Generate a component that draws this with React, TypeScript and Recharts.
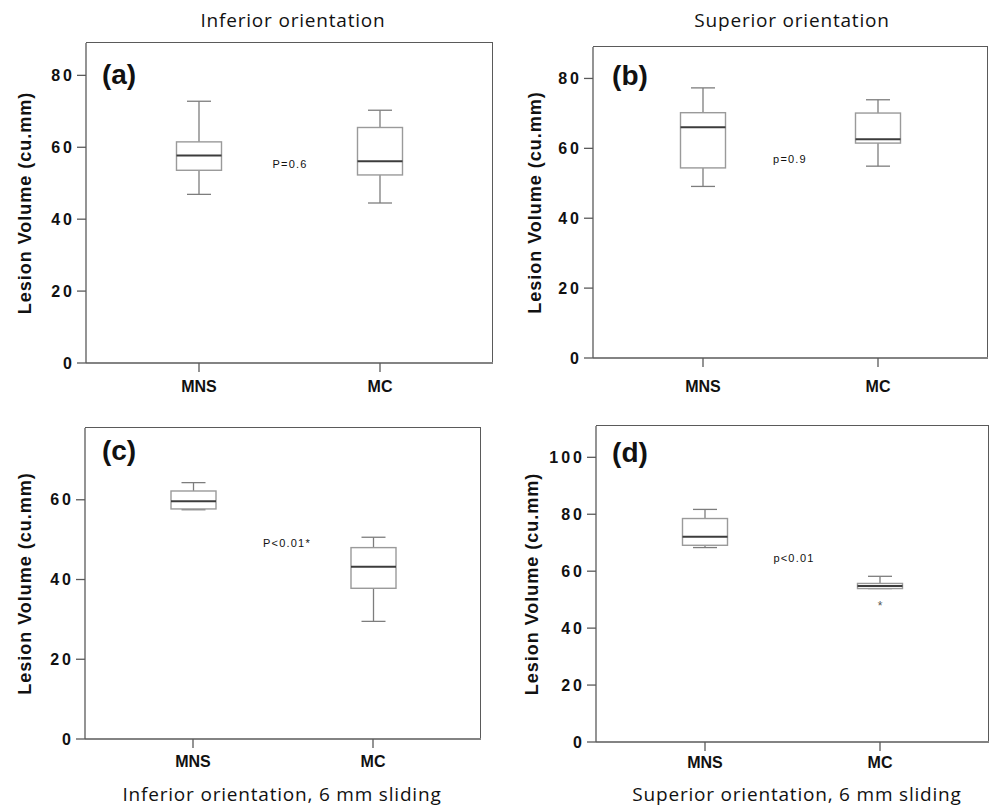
import { BarChart, Bar, XAxis, YAxis } from 'recharts';

const groups = ['MNS', 'MC'];

// five-number summaries: [min, q1, median, q3, max]
const infMNS = [46.9, 53.6, 57.7, 61.5, 72.8];
const infMC = [44.5, 52.3, 56.1, 65.5, 70.3];
const supMNS = [49.1, 54.4, 66.0, 70.2, 77.3];
const supMC = [54.9, 61.5, 62.6, 70.1, 73.9];
const infSlideMNS = [57.5, 57.7, 59.6, 62.2, 64.3];
const infSlideMC = [29.5, 37.8, 43.2, 48.0, 50.6];
const supSlideMNS = [68.3, 69.1, 72.1, 78.5, 81.7];
const supSlideMC = [53.9, 53.9, 54.8, 55.7, 58.2];
const supSlideOutliers = [[], [48.1]];

const ticksAB = [0, 20, 40, 60, 80];
const ticksC = [0, 20, 40, 60];
const ticksD = [0, 20, 40, 60, 80, 100];

const tags = ['(a)', '(b)', '(c)', '(d)'];
const pLabels = ['P=0.6', 'p=0.9', 'P<0.01*', 'p<0.01'];
const titles = ['Inferior orientation', 'Superior orientation'];
const footers = ['Inferior orientation, 6 mm sliding', 'Superior orientation, 6 mm sliding'];
const yTitle = 'Lesion Volume (cu.mm)';

const ARIAL = '"Liberation Sans", Arial, sans-serif';
const HUMAN = '"Open Sans", sans-serif';
const AXIS = '#5a5a5a';
const X_AXIS_H = 30;

const rows = (stats: number[][], outliers: number[][] = [[], []]) =>
  groups.map((name, i) => ({
    name,
    range: [stats[i][0], stats[i][4]],
    stats: stats[i],
    out: outliers[i],
  }));

const BoxShape = (props: any) => {
  const { x, y, width, height, payload } = props;
  const [lo, q1, med, q3, hi] = payload.stats;
  // position inside the bar's own pixel range (which comes from the y scale)
  const toY = (v: number) => y + (height * (hi - v)) / (hi - lo);
  const cx = x + width / 2;
  const cap = 12;
  return (
    <g>
      <line x1={cx} x2={cx} y1={toY(hi)} y2={toY(q3)} stroke="#7d7d7d" strokeWidth={1.3} />
      <line x1={cx} x2={cx} y1={toY(q1)} y2={toY(lo)} stroke="#7d7d7d" strokeWidth={1.3} />
      <line x1={cx - cap} x2={cx + cap} y1={toY(hi)} y2={toY(hi)} stroke="#7d7d7d" strokeWidth={1.3} />
      <line x1={cx - cap} x2={cx + cap} y1={toY(lo)} y2={toY(lo)} stroke="#7d7d7d" strokeWidth={1.3} />
      <rect x={x} y={toY(q3)} width={width} height={toY(q1) - toY(q3)} fill="#fff" stroke="#9a9a9a" strokeWidth={1.4} />
      <line x1={x} x2={x + width} y1={toY(med)} y2={toY(med)} stroke="#3c3c3c" strokeWidth={2} />
      {payload.out.map((v: number, i: number) => (
        <text key={i} x={cx} y={toY(v) + 5} textAnchor="middle" fontSize={12} fill="#555" fontFamily={ARIAL}>
          *
        </text>
      ))}
    </g>
  );
};

type PanelProps = {
  left: number;
  top: number;
  width: number;
  height: number;
  margin: { top: number; right: number; bottom: number; left: number };
  yWidth: number;
  pad: number;
  yMax: number;
  ticks: number[];
  xTickMargin: number;
  yLabelX: number;
  data: any[];
};

const Panel = (p: PanelProps) => {
  // plot box for the top/right frame lines
  const fx = p.margin.left + p.yWidth;
  const fy = p.margin.top;
  const fw = p.width - fx - p.margin.right;
  const fh = p.height - fy - p.margin.bottom - X_AXIS_H;
  return (
    <div style={{ position: 'absolute', left: p.left, top: p.top, width: p.width, height: p.height }}>
      <BarChart width={p.width} height={p.height} data={p.data} margin={p.margin}>
        <XAxis
          dataKey="name"
          padding={{ left: p.pad, right: p.pad }}
          interval={0}
          tickSize={9}
          tickMargin={p.xTickMargin}
          height={X_AXIS_H}
          stroke={AXIS}
          axisLine={{ stroke: AXIS, strokeWidth: 1.3 }}
          tickLine={{ stroke: AXIS, strokeWidth: 1.3 }}
          tick={{ fill: '#111', fontSize: 16, fontWeight: 'bold', fontFamily: ARIAL }}
        />
        <YAxis
          type="number"
          domain={[0, p.yMax]}
          ticks={p.ticks}
          width={p.yWidth}
          tickSize={9}
          tickMargin={2}
          axisLine={{ stroke: AXIS, strokeWidth: 1.3 }}
          tickLine={{ stroke: AXIS, strokeWidth: 1.3 }}
          tick={{ fill: '#111', fontSize: 16, fontWeight: 'bold', fontFamily: ARIAL, letterSpacing: 3 }}
          label={{
            value: yTitle,
            angle: -90,
            position: 'insideLeft',
            offset: p.yLabelX,
            style: { textAnchor: 'middle', fontSize: 18, fontWeight: 'bold', fontFamily: ARIAL, fill: '#111', letterSpacing: 1 },
          }}
        />
        <Bar dataKey="range" barSize={45} isAnimationActive={false} shape={(s: any) => <BoxShape {...s} />} />
      </BarChart>
      <div
        style={{
          position: 'absolute',
          left: fx,
          top: fy - 0.65,
          width: fw,
          height: fh,
          borderTop: '1.3px solid ' + AXIS,
          borderRight: '1.3px solid ' + AXIS,
          boxSizing: 'border-box',
          pointerEvents: 'none',
        }}
      />
    </div>
  );
};

const Note = ({ x, y, text, style }: { x: number; y: number; text: string; style: any }) => (
  <div
    style={{
      position: 'absolute',
      left: x,
      top: y,
      transform: 'translate(-50%, -50%)',
      whiteSpace: 'nowrap',
      lineHeight: 1,
      ...style,
    }}
  >
    {text}
  </div>
);

const titleStyle = { fontFamily: HUMAN, fontSize: 19, letterSpacing: 0.8, color: '#111' };
const tagStyle = { fontFamily: ARIAL, fontSize: 28, fontWeight: 'bold', color: '#111' };
const pStyle = { fontFamily: ARIAL, fontSize: 11, letterSpacing: 1.2, color: '#111' };

export default function App() {
  return (
    <div style={{ position: 'absolute', left: 0, top: 0, width: 990, height: 807, background: '#fff', overflow: 'hidden' }}>
      <Panel left={0} top={0} width={495} height={400} margin={{ top: 43, right: 2, bottom: 7, left: 0 }} yWidth={86} pad={22.5} yMax={89} ticks={ticksAB} xTickMargin={9} yLabelX={25} data={rows([infMNS, infMC])} />
      <Panel left={495} top={0} width={495} height={400} margin={{ top: 47, right: 2, bottom: 12, left: 0 }} yWidth={98} pad={22.5} yMax={89} ticks={ticksAB} xTickMargin={14} yLabelX={40} data={rows([supMNS, supMC])} />
      <Panel left={0} top={400} width={495} height={407} margin={{ top: 28, right: 14, bottom: 38, left: 0 }} yWidth={85} pad={18} yMax={78} ticks={ticksC} xTickMargin={8} yLabelX={25} data={rows([infSlideMNS, infSlideMC])} />
      <Panel left={495} top={400} width={495} height={407} margin={{ top: 26, right: 1, bottom: 35, left: 0 }} yWidth={101} pad={21.5} yMax={111} ticks={ticksD} xTickMargin={6} yLabelX={37} data={rows([supSlideMNS, supSlideMC], supSlideOutliers)} />

      <Note x={293} y={20} text={titles[0]} style={titleStyle} />
      <Note x={792} y={20} text={titles[1]} style={titleStyle} />
      <Note x={282} y={794} text={footers[0]} style={titleStyle} />
      <Note x={797} y={794} text={footers[1]} style={titleStyle} />

      <Note x={119} y={75} text={tags[0]} style={tagStyle} />
      <Note x={630} y={76} text={tags[1]} style={tagStyle} />
      <Note x={119} y={451} text={tags[2]} style={tagStyle} />
      <Note x={630} y={453} text={tags[3]} style={tagStyle} />

      <Note x={290} y={164} text={pLabels[0]} style={pStyle} />
      <Note x={790} y={159} text={pLabels[1]} style={pStyle} />
      <Note x={287} y={543} text={pLabels[2]} style={pStyle} />
      <Note x={794} y={558} text={pLabels[3]} style={pStyle} />
    </div>
  );
}
